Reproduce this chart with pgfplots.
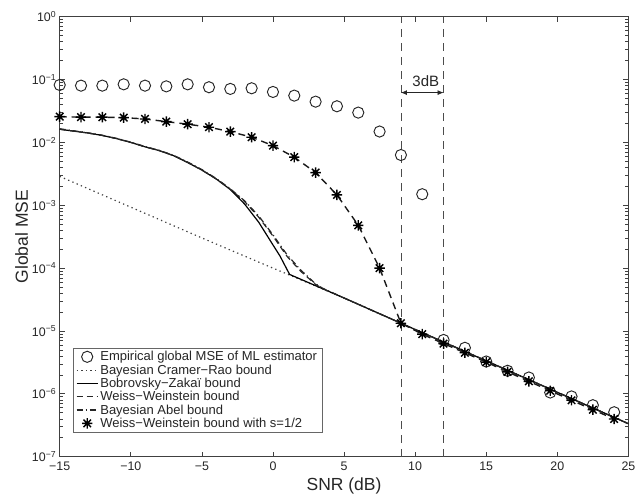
\documentclass[border=0pt]{standalone}
\usepackage{pgfplots}
\usepackage{pgfplotstable}
\pgfplotsset{compat=1.18}
\usepackage{fontspec}
\setmainfont{Liberation Sans}
\usetikzlibrary{arrows.meta}

% eight-spoke star marker (plus and cross combined)
\pgfdeclareplotmark{starburst}{%
  \pgfpathmoveto{\pgfqpoint{-\pgfplotmarksize}{0pt}}%
  \pgfpathlineto{\pgfqpoint{\pgfplotmarksize}{0pt}}%
  \pgfpathmoveto{\pgfqpoint{0pt}{-\pgfplotmarksize}}%
  \pgfpathlineto{\pgfqpoint{0pt}{\pgfplotmarksize}}%
  \pgfpathmoveto{\pgfqpoint{-0.72\pgfplotmarksize}{-0.72\pgfplotmarksize}}%
  \pgfpathlineto{\pgfqpoint{0.72\pgfplotmarksize}{0.72\pgfplotmarksize}}%
  \pgfpathmoveto{\pgfqpoint{-0.72\pgfplotmarksize}{0.72\pgfplotmarksize}}%
  \pgfpathlineto{\pgfqpoint{0.72\pgfplotmarksize}{-0.72\pgfplotmarksize}}%
  \pgfusepathqstroke}

% Empirical global MSE of the ML estimator
\pgfplotstableread{
snr mse
-15   0.082
-13.5 0.080
-12   0.080
-10.5 0.084
-9    0.080
-7.5  0.078
-6    0.084
-4.5  0.0755
-3    0.071
-1.5  0.0727
0     0.0635
1.5   0.0555
3     0.0445
4.5   0.0376
6     0.0298
7.5   0.0149
9     0.0063
10.5  0.0015
12    7.2e-6
13.5  5.4e-6
15    3.27e-6
16.5  2.33e-6
18    1.82e-6
19.5  1.05e-6
21    9.1e-7
22.5  6.6e-7
24    5.1e-7
}\mlmse

% Bayesian Cramer-Rao bound
\pgfplotstableread{
snr mse
-15  2.88e-3
-10  9.33e-4
-5   3.02e-4
0    1.0e-4
1.17 7.76e-5
5    3.35e-5
9    1.33e-5
15   3.35e-6
20   1.06e-6
25   3.35e-7
}\bcrb

% Bobrovsky-Zakai bound
\pgfplotstableread{
snr mse
-15  0.0162
-14  0.0151
-13  0.0141
-12  0.0129
-11  0.0115
-10  0.0100
-9   0.00851
-8   0.00741
-7   0.00617
-6   0.00479
-5   0.00363
-4   0.00263
-3   0.00178
-2   0.00105
-1   5.37e-4
0    2.34e-4
0.5  1.55e-4
1.17 7.94e-5
5    3.35e-5
9    1.33e-5
15   3.35e-6
20   1.06e-6
25   3.35e-7
}\bzb

% Weiss-Weinstein bound
\pgfplotstableread{
snr mse
-15  0.0162
-14  0.0151
-13  0.0141
-12  0.0129
-11  0.0115
-10  0.0100
-9   0.00851
-8   0.00741
-7   0.00617
-6   0.00479
-5   0.00363
-4   0.00263
-3   0.00180
-2   0.00115
-1   6.46e-4
0    3.24e-4
1    1.53e-4
2    8.71e-5
3    5.50e-5
3.5  4.73e-5
5    3.35e-5
9    1.33e-5
15   3.35e-6
20   1.06e-6
25   3.35e-7
}\wwb

% Bayesian Abel bound
\pgfplotstableread{
snr mse
-15  0.0165
-14  0.0153
-13  0.0142
-12  0.0130
-11  0.0116
-10  0.0101
-9   0.00860
-8   0.00748
-7   0.00625
-6   0.00488
-5   0.00370
-4   0.00268
-3   0.00183
-2   0.00118
-1   6.76e-4
0    3.39e-4
1    1.62e-4
2    9.12e-5
3    5.62e-5
3.5  4.78e-5
5    3.35e-5
9    1.33e-5
15   3.35e-6
20   1.06e-6
25   3.35e-7
}\abel

% Weiss-Weinstein bound with s=1/2
\pgfplotstableread{
snr mse
-15   0.0257
-13.5 0.0252
-12   0.0252
-10.5 0.0248
-9    0.0236
-7.5  0.0214
-6    0.0195
-4.5  0.01745
-3    0.01485
-1.5  0.0121
0     0.0089
1.5   0.00582
3     0.00331
4.5   0.00146
6     0.00048
7.5   1.0e-4
9     1.33e-5
10.5  8.9e-6
12    6.3e-6
13.5  4.5e-6
15    3.2e-6
16.5  2.24e-6
18    1.58e-6
19.5  1.12e-6
21    7.9e-7
22.5  5.6e-7
24    3.98e-7
}\wwbhalf

\begin{document}
\begin{tikzpicture}
\useasboundingbox (-59.7pt,-40.3pt) rectangle (582.3pt,456.7pt);
\begin{semilogyaxis}[
  scale only axis,
  width=568.7pt, height=440pt,
  xmin=-15, xmax=25, ymin=1e-7, ymax=1,
  xtick={-15,-10,...,25},
  xticklabels={−15,−10,−5,0,5,10,15,20,25},
  ytick={1e-7,1e-6,1e-5,1e-4,1e-3,1e-2,1e-1,1},
  yticklabels={10\textsuperscript{−7},10\textsuperscript{−6},10\textsuperscript{−5},10\textsuperscript{−4},10\textsuperscript{−3},10\textsuperscript{−2},10\textsuperscript{−1},10\textsuperscript{0}},
  minor ytick={2e-7,3e-7,4e-7,5e-7,6e-7,7e-7,8e-7,9e-7,
               2e-6,3e-6,4e-6,5e-6,6e-6,7e-6,8e-6,9e-6,
               2e-5,3e-5,4e-5,5e-5,6e-5,7e-5,8e-5,9e-5,
               2e-4,3e-4,4e-4,5e-4,6e-4,7e-4,8e-4,9e-4,
               2e-3,3e-3,4e-3,5e-3,6e-3,7e-3,8e-3,9e-3,
               2e-2,3e-2,4e-2,5e-2,6e-2,7e-2,8e-2,9e-2,
               0.2,0.3,0.4,0.5,0.6,0.7,0.8,0.9},
  tick align=inside,
  major tick length=5pt, minor tick length=3pt,
  axis line style={draw=black!75, line width=0.8pt},
  every tick/.style={black!75, line width=0.7pt},
  ticklabel style={font=\fontsize{12.4}{14}\selectfont, text=black!85},
  xticklabel style={yshift=-1.5pt},
  xlabel={SNR (dB)}, ylabel={Global MSE},
  label style={font=\fontsize{17.5}{20}\selectfont, text=black!85},
  xlabel style={at={(axis description cs:0.5,-0.066)}, anchor=center},
  ylabel style={at={(axis description cs:-0.067,0.5)}, anchor=center},
  legend cell align=left,
  legend style={at={(axis description cs:0.0229,0.0545)}, anchor=south west,
    draw=black!60, line width=0.7pt, fill=white,
    font=\fontsize{13}{15}\selectfont, text=black!85,
    inner xsep=3pt, inner ysep=1.5pt, row sep=-1.6pt},
  legend image code/.code={%
    \draw[mark repeat=2,mark phase=2] plot coordinates {(0cm,0cm) (0.37cm,0cm) (0.74cm,0cm)};},
]
% reference lines marking the 3 dB gap
\addplot[forget plot, black!70, line width=0.8pt, dash pattern=on 8pt off 6pt] coordinates {(9,1e-7) (9,1)};
\addplot[forget plot, black!70, line width=0.8pt, dash pattern=on 8pt off 6pt] coordinates {(12,1e-7) (12,1)};

\addplot[only marks, mark=o, mark size=5.6pt, black!85, line width=0.95pt] table[x=snr,y=mse] {\mlmse};
\addlegendentry{Empirical global MSE of ML estimator}
\addplot[no marks, black!75, line width=1.2pt, dash pattern=on 1.3pt off 3.3pt] table[x=snr,y=mse] {\bcrb};
\addlegendentry{Bayesian Cramer−Rao bound}
\addplot[no marks, black, line width=1.2pt] table[x=snr,y=mse] {\bzb};
\addlegendentry{Bobrovsky−Zakaï bound}
\addplot[no marks, black!85, line width=1.2pt, dash pattern=on 6pt off 4pt] table[x=snr,y=mse] {\wwb};
\addlegendentry{Weiss−Weinstein bound}
\addplot[no marks, black!85, line width=1.2pt, dash pattern=on 6pt off 3pt on 1.2pt off 3pt] table[x=snr,y=mse] {\abel};
\addlegendentry{Bayesian Abel bound}
\addplot[forget plot, no marks, black!90, line width=1.4pt, dash pattern=on 7pt off 5pt] table[x=snr,y=mse] {\wwbhalf};
\addplot[only marks, mark=starburst, mark size=5.2pt, black, line width=1.4pt] table[x=snr,y=mse] {\wwbhalf};
\addlegendentry{Weiss−Weinstein bound with s=1/2}

% 3 dB annotation
\draw[{Latex[length=6pt,width=5pt]}-{Latex[length=6pt,width=5pt]}, black!85, line width=0.8pt]
  (axis cs:9,0.062) -- (axis cs:12,0.062);
\node[font=\fontsize{15}{17}\selectfont, text=black!85] at (axis cs:10.75,0.093) {3dB};
\end{semilogyaxis}
\end{tikzpicture}
\end{document}
